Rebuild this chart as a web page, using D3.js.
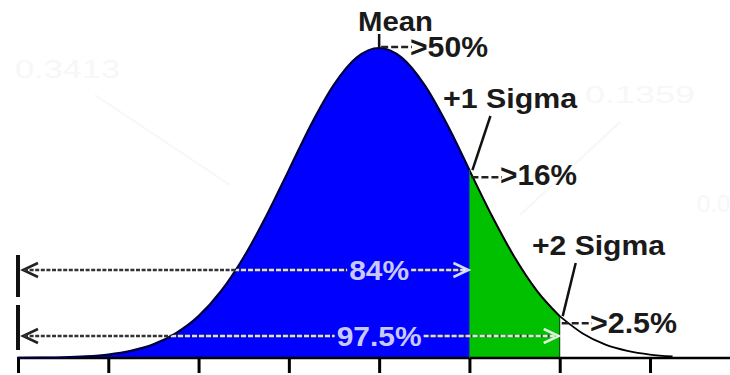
<!DOCTYPE html>
<html><head><meta charset="utf-8">
<script src="https://cdn.jsdelivr.net/npm/d3@7"></script>
<style>html,body{margin:0;padding:0;background:#fff;}svg{display:block;}</style>
</head><body>
<svg id="chart" width="730" height="375"></svg>
<script>
// ---- data ----
const sigmaTicks = [-4, -3, -2, -1, 0, 1, 2, 3];
const curveZ = [-4, -3.75, -3.5, -3.25, -3, -2.75, -2.5, -2.25, -2, -1.75, -1.5, -1.25, -1, -0.75, -0.5, -0.25,
                0, 0.25, 0.5, 0.75, 1, 1.25, 1.5, 1.75, 2, 2.25, 2.5, 2.75, 3, 3.25];
const curveHeight = [0.03, 0.09, 0.2, 0.5, 1.1, 2.3, 4.4, 8.0, 13.5, 21.6, 32.5, 45.8, 60.6, 75.5, 88.2, 96.9,
                     100, 96.9, 88.2, 75.5, 60.6, 45.8, 32.5, 21.6, 13.5, 8.0, 4.4, 2.3, 1.1, 0.5];
const markerNames = ["Mean", "+1 Sigma", "+2 Sigma"];
const markerZ = [0, 1, 2];
const markerPercent = ["50%", "16%", "2.5%"];
const bracketLabels = ["84%", "97.5%"];
const bracketEndZ = [1, 2];
const faintLabels = ["0.3413", "0.1359", "0.0"];

// ---- drawing ----
const W = 730, H = 375;
const svg = d3.select("#chart");
const x = d3.scaleLinear().domain([-4, 3]).range([18, 650]);
const y = d3.scaleLinear().domain([0, 100]).range([358, 48]);
const pts = curveZ.map((z, i) => ({z, h: curveHeight[i]}));
const font = "'Liberation Sans', Arial, sans-serif";

// faint watermark remnants
const faint = "#f7f7f7";
svg.append("text").attr("x", 15).attr("y", 78).attr("font-family", font).attr("font-size", 26)
  .attr("fill", faint).attr("textLength", 105).attr("lengthAdjust", "spacingAndGlyphs").text(faintLabels[0]);
svg.append("line").attr("x1", 95).attr("y1", 95).attr("x2", 230).attr("y2", 185).attr("stroke", faint).attr("stroke-width", 2);
svg.append("text").attr("x", 585).attr("y", 103).attr("font-family", font).attr("font-size", 24)
  .attr("fill", faint).attr("textLength", 110).attr("lengthAdjust", "spacingAndGlyphs").text(faintLabels[1]);
svg.append("line").attr("x1", 620).attr("y1", 122).attr("x2", 520).attr("y2", 215).attr("stroke", faint).attr("stroke-width", 2);
svg.append("text").attr("x", 697).attr("y", 212).attr("font-family", font).attr("font-size", 24)
  .attr("fill", faint).text(faintLabels[2]);

const area = d3.area().x(d => x(d.z)).y0(y(0)).y1(d => y(d.h)).curve(d3.curveMonotoneX);
const line = d3.line().x(d => x(d.z)).y(d => y(d.h)).curve(d3.curveMonotoneX);

const blue = pts.filter(d => d.z <= 1);
const green = pts.filter(d => d.z >= 1 && d.z <= 2);
const tail = pts.filter(d => d.z >= 2);

svg.append("defs").append("clipPath").attr("id", "under")
  .append("path").attr("d", area(pts.filter(d => d.z <= 2)));

svg.append("path").attr("d", area(blue)).attr("fill", "#0000ff");
svg.append("path").attr("d", area(green)).attr("fill", "#00c000");

// axis
svg.append("line").attr("x1", 17).attr("x2", W).attr("y1", y(0)).attr("y2", y(0))
  .attr("stroke", "#000").attr("stroke-width", 2.5);
const axis = d3.axisBottom(x).tickValues(sigmaTicks).tickSize(15).tickFormat("");
const gAxis = svg.append("g").attr("transform", `translate(0,${y(0)})`).call(axis);
gAxis.select(".domain").remove();
gAxis.selectAll(".tick line").attr("stroke", "#000").attr("stroke-width", 3);

// outlines
svg.append("path").attr("d", line(blue)).attr("fill", "none").attr("stroke", "#00003a").attr("stroke-width", 2.2);
svg.append("path").attr("d", line(green)).attr("fill", "none").attr("stroke", "#000").attr("stroke-width", 2);
svg.append("path").attr("d", line(tail)).attr("fill", "none").attr("stroke", "#000").attr("stroke-width", 1.8);
svg.append("line").attr("x1", x(1)).attr("x2", x(1)).attr("y1", y(curveHeight[curveZ.indexOf(1)])).attr("y2", y(0))
  .attr("stroke", "#006a6a").attr("stroke-width", 1);
svg.append("line").attr("x1", x(2)).attr("x2", x(2)).attr("y1", y(curveHeight[curveZ.indexOf(2)])).attr("y2", y(0))
  .attr("stroke", "#003300").attr("stroke-width", 1);

// brackets (84%, 97.5%)
const bracketY = [270, 336];
const bracketBar = [[255, 297], [305, 350]];
const textW = [60, 85];
bracketLabels.forEach((lab, i) => {
  const by = bracketY[i];
  const xEnd = x(bracketEndZ[i]) - 1;
  const cx = x(0);
  const tL = cx - textW[i] / 2, tR = cx + textW[i] / 2;
  svg.append("line").attr("x1", 18).attr("x2", 18).attr("y1", bracketBar[i][0]).attr("y2", bracketBar[i][1])
    .attr("stroke", "#111").attr("stroke-width", 4);
  svg.append("path").attr("d", `M38,${by - 7} L23,${by} L38,${by + 7}`).attr("fill", "none")
    .attr("stroke", "#222").attr("stroke-width", 2.5);
  const segs = [[24, tL - 2], [tR + 2, xEnd - 2]];
  segs.forEach(s => {
    svg.append("line").attr("x1", s[0]).attr("x2", s[1]).attr("y1", by).attr("y2", by)
      .attr("stroke", "#333").attr("stroke-width", 2.5).attr("stroke-dasharray", "4,1.6");
    svg.append("line").attr("x1", s[0]).attr("x2", s[1]).attr("y1", by).attr("y2", by)
      .attr("clip-path", "url(#under)")
      .attr("stroke", "#ffffff").attr("stroke-opacity", 0.85).attr("stroke-width", 2.5).attr("stroke-dasharray", "5,2");
  });
  svg.append("path").attr("d", `M${xEnd - 15},${by - 7} L${xEnd},${by} L${xEnd - 15},${by + 7}`).attr("fill", "none")
    .attr("stroke", "#ffffff").attr("stroke-opacity", 0.85).attr("stroke-width", 2.5);
  svg.append("text").attr("x", tL).attr("y", by + 10).attr("font-family", font).attr("font-weight", "bold")
    .attr("font-size", 28).attr("fill", "#c8c8ff").attr("textLength", textW[i]).attr("lengthAdjust", "spacingAndGlyphs")
    .text(lab);
});

// marker annotations
const labelPos = [[358, 31, 75], [443, 108, 134], [532, 255, 133]];
const pctPos = [[410, 57, 78], [500, 185, 77], [590, 333, 87]];
markerNames.forEach((name, i) => {
  const px = x(markerZ[i]);
  const py = y(curveHeight[curveZ.indexOf(markerZ[i])]);
  svg.append("text").attr("x", labelPos[i][0]).attr("y", labelPos[i][1]).attr("font-family", font)
    .attr("font-weight", "bold").attr("font-size", 28).attr("fill", "#1a1a1a")
    .attr("textLength", labelPos[i][2]).attr("lengthAdjust", "spacingAndGlyphs").text(name);
  let dashY;
  if (i === 0) {
    svg.append("line").attr("x1", px).attr("x2", px).attr("y1", 34).attr("y2", py)
      .attr("stroke", "#111").attr("stroke-width", 2.5);
    dashY = py - 1;
  } else {
    svg.append("line").attr("x1", px + (i === 1 ? 21 : 16)).attr("y1", labelPos[i][1] + 8)
      .attr("x2", px + 3).attr("y2", py).attr("stroke", "#111").attr("stroke-width", 2.5);
    dashY = py + 7;
  }
  svg.append("line").attr("x1", px + 2).attr("x2", pctPos[i][0] + 2).attr("y1", dashY).attr("y2", dashY)
    .attr("stroke", "#222").attr("stroke-width", 2.5).attr("stroke-dasharray", "7,3");
  svg.append("text").attr("x", pctPos[i][0]).attr("y", pctPos[i][1]).attr("font-family", font)
    .attr("font-weight", "bold").attr("font-size", 29).attr("fill", "#1a1a1a")
    .attr("textLength", pctPos[i][2]).attr("lengthAdjust", "spacingAndGlyphs").text(">" + markerPercent[i]);
});
</script>
</body></html>
